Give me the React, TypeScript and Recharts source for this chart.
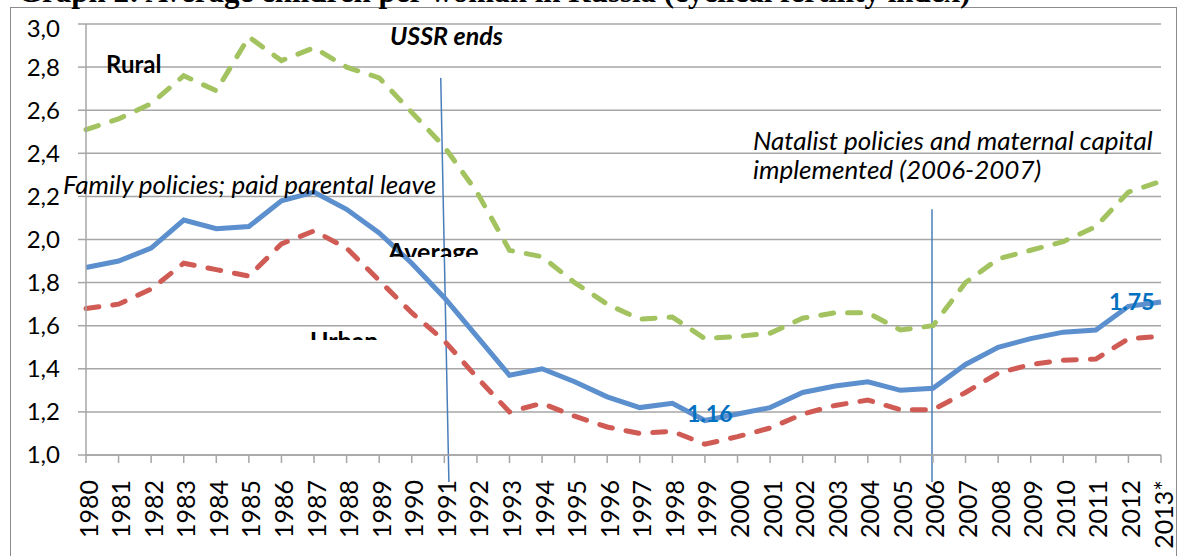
import { LineChart, Line, XAxis, YAxis, CartesianGrid, ReferenceLine } from 'recharts';

const years = [
  1980, 1981, 1982, 1983, 1984, 1985, 1986, 1987, 1988, 1989, 1990, 1991,
  1992, 1993, 1994, 1995, 1996, 1997, 1998, 1999, 2000, 2001, 2002, 2003,
  2004, 2005, 2006, 2007, 2008, 2009, 2010, 2011, 2012, 2013,
];

const average = [
  1.87, 1.9, 1.96, 2.09, 2.05, 2.06, 2.18, 2.22, 2.14, 2.03, 1.89, 1.73,
  1.55, 1.37, 1.4, 1.34, 1.27, 1.22, 1.24, 1.16, 1.19, 1.22, 1.29, 1.32,
  1.34, 1.3, 1.31, 1.42, 1.5, 1.54, 1.57, 1.58, 1.69, 1.71,
];

const rural = [
  2.51, 2.56, 2.63, 2.76, 2.69, 2.94, 2.83, 2.89, 2.8, 2.75, 2.59, 2.43,
  2.22, 1.95, 1.92, 1.8, 1.7, 1.63, 1.64, 1.54, 1.55, 1.565, 1.635, 1.66,
  1.66, 1.58, 1.6, 1.8, 1.91, 1.95, 1.99, 2.06, 2.22, 2.27,
];

const urban = [
  1.68, 1.7, 1.77, 1.89, 1.86, 1.83, 1.98, 2.04, 1.96, 1.81, 1.66, 1.53,
  1.36, 1.2, 1.24, 1.18, 1.13, 1.1, 1.11, 1.05, 1.085, 1.125, 1.19, 1.23,
  1.255, 1.21, 1.21, 1.29, 1.38, 1.42, 1.44, 1.445, 1.54, 1.55,
];

const yTicks = [1, 1.2, 1.4, 1.6, 1.8, 2, 2.2, 2.4, 2.6, 2.8, 3];

const data = years.map((year, i) => ({
  year,
  average: average[i],
  rural: rural[i],
  urban: urban[i],
}));

const GRID = '#a6a6a6';
const FONT = 'Lato, "Open Sans", sans-serif';

const YearTick = (props: any) => {
  const { x, y, payload } = props;
  const label = payload.value === 2013 ? '2013*' : String(payload.value);
  return (
    <text
      x={x}
      y={y}
      dy="0.46em"
      textAnchor="end"
      transform={`rotate(-90, ${x}, ${y})`}
      fontSize={25}
      fontFamily={FONT}
      fill="#000"
    >
      {label}
    </text>
  );
};

// top label sits a little lower in the original, so it clears the title
const ValueTick = (props: any) => {
  const { x, y, payload } = props;
  const shift = payload.value === 3 ? 5 : 0;
  return (
    <text
      x={x}
      y={y + shift}
      dy="0.35em"
      textAnchor="end"
      fontSize={24}
      fontFamily={FONT}
      fill="#000"
    >
      {payload.value.toFixed(1).replace('.', ',')}
    </text>
  );
};

export default function App() {
  return (
    <div
      style={{
        position: 'absolute',
        left: 0,
        top: 0,
        width: 1177,
        height: 556,
        overflow: 'hidden',
        background: '#fff',
      }}
    >
      <div
        style={{
          position: 'absolute',
          left: 10,
          top: 7,
          width: 1165,
          height: 600,
          border: '1px solid #8c8c8c',
        }}
      />
      <div style={{ position: 'absolute', left: 0, top: 0 }}>
        <LineChart
          width={1177}
          height={556}
          data={data}
          margin={{ top: 24, right: 16, left: 26, bottom: 21 }}
        >
          <CartesianGrid vertical={false} stroke={GRID} strokeWidth={1.5} />
          <XAxis
            dataKey="year"
            type="number"
            domain={[1980, 2013]}
            ticks={years}
            interval={0}
            height={80}
            tick={<YearTick />}
            tickSize={8}
            tickMargin={17}
            axisLine={{ stroke: GRID, strokeWidth: 1.5 }}
            tickLine={{ stroke: GRID, strokeWidth: 1.5 }}
          />
          <YAxis
            domain={[1, 3]}
            ticks={yTicks}
            width={60}
            tickSize={8}
            tickMargin={18}
            tick={<ValueTick />}
            axisLine={{ stroke: GRID, strokeWidth: 1.5 }}
            tickLine={{ stroke: GRID, strokeWidth: 1.5 }}
          />
          <ReferenceLine
            segment={[
              { x: 1990.89, y: 2.75 },
              { x: 1991.14, y: 0.875 },
            ]}
            stroke="#4a7ebb"
            strokeWidth={1.5}
            ifOverflow="visible"
          />
          <ReferenceLine
            segment={[
              { x: 2005.97, y: 2.14 },
              { x: 2005.97, y: 0.875 },
            ]}
            stroke="#4a7ebb"
            strokeWidth={1.5}
            ifOverflow="visible"
          />
          <Line
            dataKey="rural"
            stroke="#a2c35f"
            strokeWidth={5}
            strokeDasharray="13 14"
            strokeLinecap="round"
            dot={false}
            isAnimationActive={false}
          />
          <Line
            dataKey="urban"
            stroke="#d05b55"
            strokeWidth={5}
            strokeDasharray="13 14"
            strokeLinecap="round"
            dot={false}
            isAnimationActive={false}
          />
          <Line
            dataKey="average"
            stroke="#5b8fcd"
            strokeWidth={5}
            dot={false}
            isAnimationActive={false}
          />
        </LineChart>
      </div>
      <svg
        width={1177}
        height={556}
        style={{ position: 'absolute', left: 0, top: 0, pointerEvents: 'none' }}
      >
        <defs>
          <clipPath id="clipAvg">
            <rect x={380} y={230} width={110} height={27} />
          </clipPath>
          <clipPath id="clipUrban">
            <rect x={300} y={320} width={90} height={20} />
          </clipPath>
        </defs>
        <text
          x={18}
          y={2}
          fontFamily='"Liberation Serif", serif'
          fontWeight="bold"
          fontSize={31}
          fill="#000"
        >
          Graph 2: Average children per woman in Russia (cyclical fertility index)
        </text>
        <g fontFamily={FONT} fontSize={25} fill="#000">
          <text x={390} y={45} fontWeight="bold" fontStyle="italic">USSR ends</text>
          <text x={106} y={73} fontWeight="bold" fontSize={24}>Rural</text>
          <text x={63} y={194} fontStyle="italic" fontSize={26}>
            Family policies; paid parental leave
          </text>
          <text x={753} y={150} fontStyle="italic" fontSize={26}>
            Natalist policies and maternal capital
          </text>
          <text x={753} y={179} fontStyle="italic" fontSize={26}>
            implemented (2006-2007)
          </text>
          <text x={388} y={261} fontWeight="bold" clipPath="url(#clipAvg)">Average</text>
          <text x={310} y={350} fontWeight="bold" clipPath="url(#clipUrban)">Urban</text>
          <text x={687} y={422} fontWeight="bold" fontSize={23} fill="#0070c0">1.16</text>
          <text x={1109} y={310} fontWeight="bold" fontSize={23} fill="#0070c0">1.75</text>
        </g>
      </svg>
    </div>
  );
}
